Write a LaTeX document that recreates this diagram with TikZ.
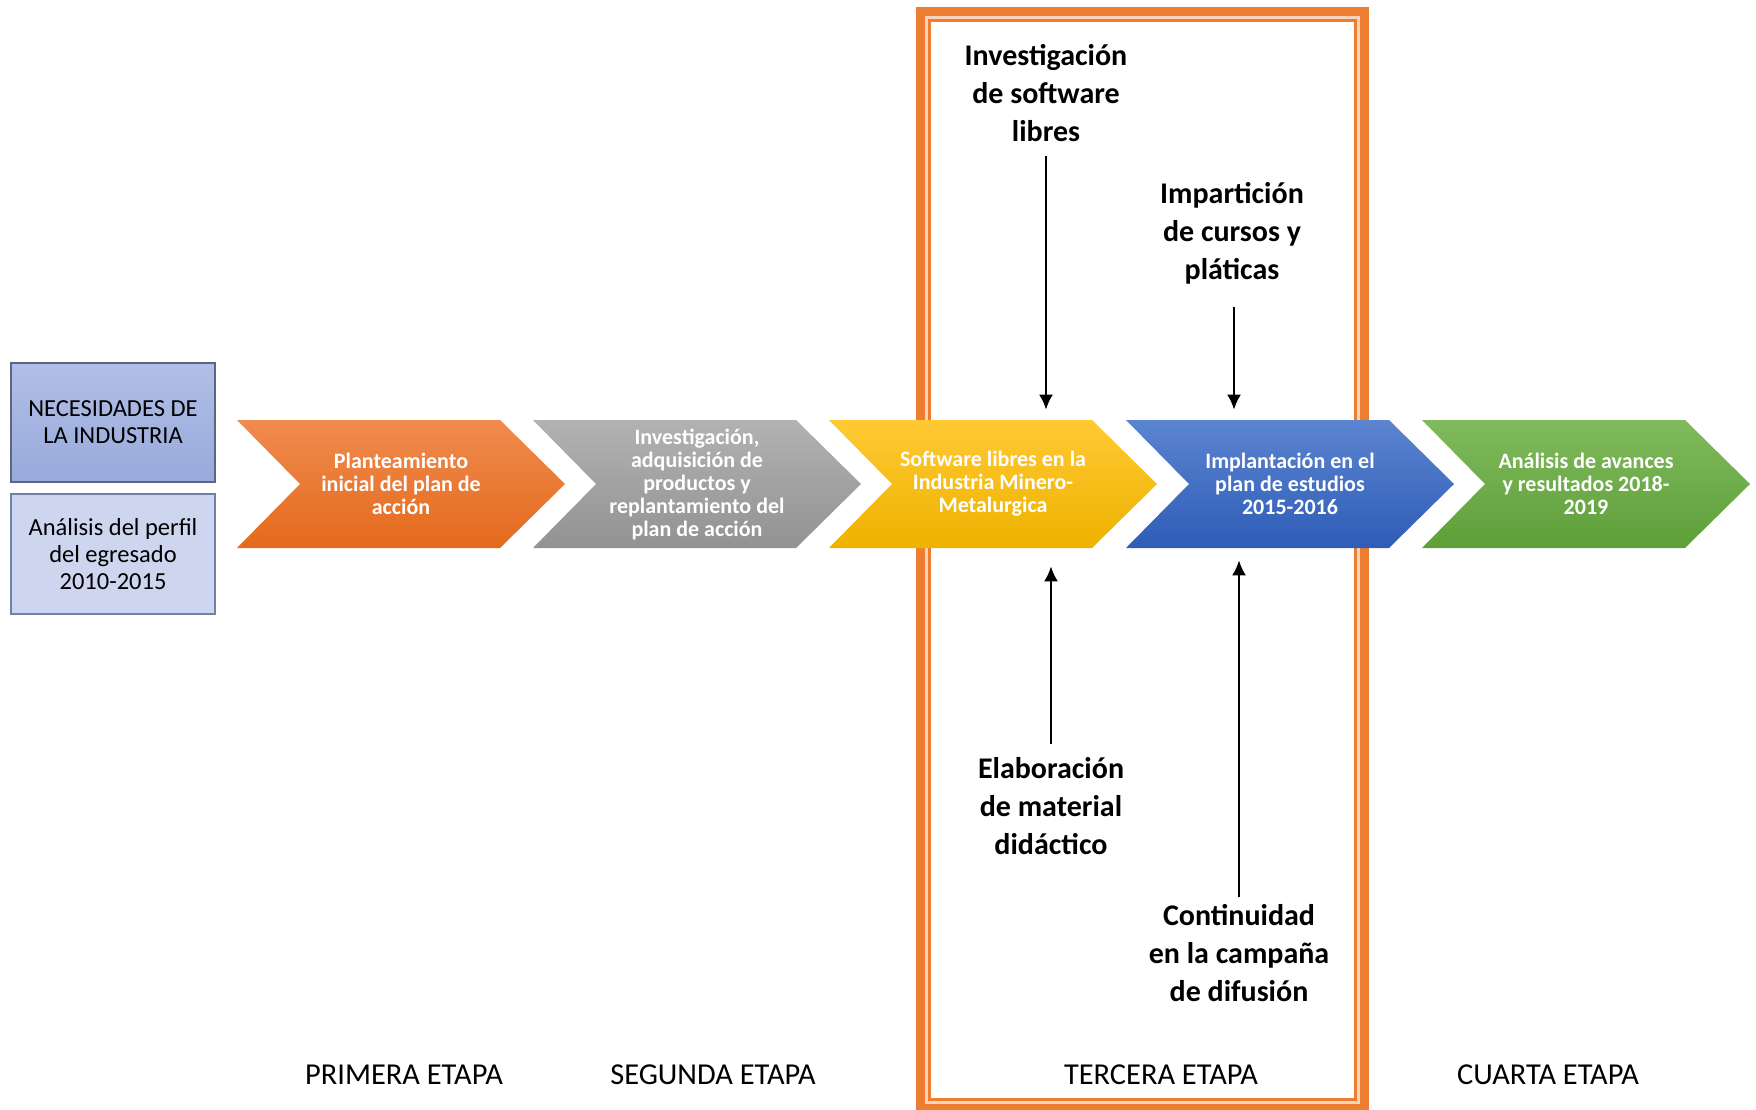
\documentclass[tikz,border=0pt]{standalone}
\usepackage{fontspec}
\setmainfont{Carlito}
\usetikzlibrary{arrows.meta}
\definecolor{frameorange}{HTML}{ED7D31}
\definecolor{oraTop}{HTML}{F08B4E}\definecolor{oraBot}{HTML}{E36A1C}
\definecolor{gryTop}{HTML}{B2B2B2}\definecolor{gryBot}{HTML}{929292}
\definecolor{yelTop}{HTML}{FFC933}\definecolor{yelBot}{HTML}{EEB200}
\definecolor{bluTop}{HTML}{5C85D0}\definecolor{bluBot}{HTML}{2E5CB7}
\definecolor{grnTop}{HTML}{80BA5C}\definecolor{grnBot}{HTML}{5E9F39}
\definecolor{necTop}{HTML}{B1BFE5}\definecolor{necBot}{HTML}{97AADB}
\definecolor{perFill}{HTML}{CDD6EE}

\begin{document}
\begin{tikzpicture}[x=0.5pt,y=-0.5pt,>={Latex[length=7.5pt,width=7pt]},
  chev/.style n args={2}{minimum width=164pt,minimum height=64pt,inner sep=0pt,align=center,text=white,
    font=\fontsize{11}{11.5}\selectfont\bfseries,
    path picture={\shade[top color=#1,bottom color=#2] (path picture bounding box.north west)
      -- ([xshift=-32.5pt]path picture bounding box.north east) -- (path picture bounding box.east)
      -- ([xshift=-32.5pt]path picture bounding box.south east) -- (path picture bounding box.south west)
      -- ([xshift=31.5pt]path picture bounding box.west) -- cycle;}},
  sidebox/.style={draw=#1,line width=0.6pt,minimum width=102pt,align=center,font=\fontsize{12.25}{13.5}\selectfont},
  lbl/.style={align=center,font=\fontsize{15}{19}\selectfont\bfseries},
  stage/.style={font=\fontsize{15.2}{17}\selectfont},
  link/.style={->,line width=1pt}]
\useasboundingbox (0,0) rectangle (1756,1109);
% tercera etapa frame
\draw[frameorange,line width=4.5pt] (920.5,11.5) rectangle (1364.5,1108.5);
\draw[frameorange!35,line width=1.5pt] (926.5,17.5) rectangle (1358.5,1102.5);
\draw[frameorange,line width=1.5pt] (929.5,20.5) rectangle (1355.5,1099.5);
% left boxes
\node[sidebox={black!40!necBot},minimum height=59.5pt,top color=necTop,bottom color=necBot] (nec) at (113,422.5) {NECESIDADES DE\\LA INDUSTRIA};
\node[sidebox={black!25!necBot},minimum height=60pt,fill=perFill] (per) at (113,554) {Análisis del perfil\\del egresado\\2010-2015};
% chevrons
\node[chev={oraTop}{oraBot}] (ora) at (401,484) {Planteamiento\\inicial del plan de\\acción};
\node[chev={gryTop}{gryBot}] (gry) at (697,484) {Investigación,\\adquisición de\\productos y\\replantamiento del\\plan de acción};
\node[chev={yelTop}{yelBot}] (yel) at (993,484) {Software libres en la\\Industria Minero-\\Metalurgica};
\node[chev={bluTop}{bluBot}] (blu) at (1290,484) {Implantación en el\\plan de estudios\\2015-2016};
\node[chev={grnTop}{grnBot}] (grn) at (1586,484) {Análisis de avances\\y resultados 2018-\\2019};
% labels and arrows
\node[lbl] (inv) at (1046,93) {Investigación\\de software\\libres};
\node[lbl] (imp) at (1232,233) {Impartición\\de cursos y\\pláticas};
\node[lbl] (ela) at (1051,806) {Elaboración\\de material\\didáctico};
\node[lbl] (con) at (1239,953) {Continuidad\\en la campaña\\de difusión};
\draw[link,shorten <=3.5pt,shorten >=5pt] (inv.south) -- (inv.south |- yel.north);
\draw[link,shorten <=8pt,shorten >=5pt] ([xshift=1pt]imp.south) -- ([xshift=1pt]imp.south |- blu.north);
\draw[link,shorten <=3pt,shorten >=9pt] (ela.north) -- (ela.north |- yel.south);
\draw[link,shorten >=6pt] (con.north) -- (con.north |- blu.south);
% stages
\node[stage] (st1) at (404,1075) {PRIMERA ETAPA};
\node[stage] (st2) at (713,1075) {SEGUNDA ETAPA};
\node[stage] (st3) at (1161,1075) {TERCERA ETAPA};
\node[stage] (st4) at (1548,1075) {CUARTA ETAPA};
\end{tikzpicture}
\end{document}
